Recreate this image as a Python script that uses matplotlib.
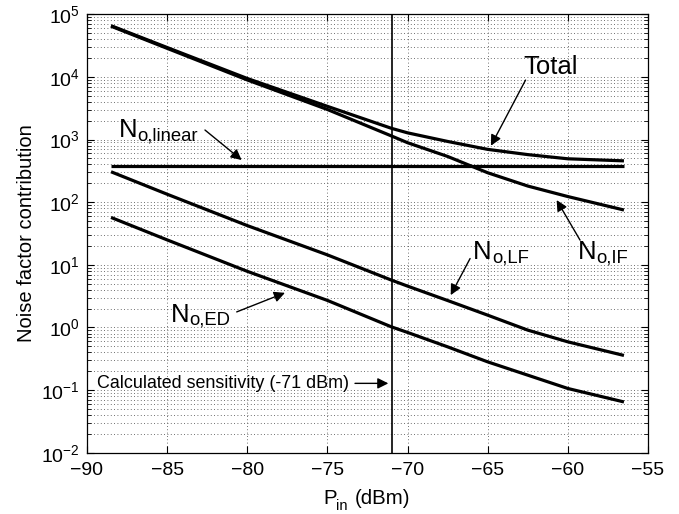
import matplotlib
matplotlib.use("Agg")
import matplotlib.pyplot as plt
from matplotlib.ticker import LogLocator, NullFormatter, FixedLocator

plt.rcParams["font.family"] = ["Liberation Sans", "DejaVu Sans"]
plt.rcParams["mathtext.fontset"] = "custom"
plt.rcParams["mathtext.rm"] = "Liberation Sans"
plt.rcParams["mathtext.it"] = "Liberation Sans:italic"
plt.rcParams["mathtext.bf"] = "Liberation Sans:bold"

# --- data ---
p_in = [-88.5, -85, -80, -75, -71, -70, -67.5, -65, -62.5, -60, -56.5]
n_total = [65800, 29500, 9440, 3390, 1510, 1280, 933, 697, 575, 493, 457]
n_if = [64600, 28600, 8950, 3020, 1140, 890, 537, 295, 181, 123, 75]
n_linear = [380] * len(p_in)
n_lf = [306, 134, 42.3, 14.4, 5.69, 4.57, 2.69, 1.57, 0.906, 0.589, 0.357]
n_ed = [57.1, 25.0, 7.87, 2.70, 1.02, 0.832, 0.490, 0.282, 0.173, 0.106, 0.0646]
sensitivity = -71
x_ticks = [-90, -85, -80, -75, -70, -65, -60, -55]

W, H = 679, 514
fig = plt.figure(figsize=(W / 100, H / 100), dpi=100)
ax = fig.add_axes([87 / W, 1 - 452.7 / H, 561 / W, 438.4 / H])

for series in (n_total, n_if, n_linear, n_lf, n_ed):
    ax.plot(p_in, series, color="black", lw=2.3, solid_capstyle="butt")
ax.axvline(sensitivity, color="black", lw=1.2)

ax.set_yscale("log")
ax.set_xlim(-90, -55)
ax.set_ylim(1e-2, 1e5)
ax.xaxis.set_major_locator(FixedLocator(x_ticks))
ax.yaxis.set_major_locator(LogLocator(base=10, numticks=10))
ax.yaxis.set_minor_locator(LogLocator(base=10, subs=range(2, 10), numticks=20))
ax.yaxis.set_minor_formatter(NullFormatter())

grid_style = dict(color="0.25", lw=0.6, linestyle=(0, (1, 3)))
ax.grid(True, which="major", axis="x", **grid_style)
ax.grid(True, which="both", axis="y", **grid_style)

ax.tick_params(which="both", direction="in", top=True, right=True, labelsize=14)
ax.tick_params(which="major", length=5)
ax.tick_params(which="minor", length=3)
ax.tick_params(axis="x", pad=7)
ax.tick_params(axis="y", pad=5)
for s in ax.spines.values():
    s.set_linewidth(0.9)

ax.set_ylabel("Noise factor contribution", fontsize=14.5, labelpad=4)


def sub_text(x, y, main, sub, size, main_w, drop, scale=0.72):
    # main letter + smaller subscript, placed like the MATLAB tex labels
    ax.text(x, y, main, fontsize=size, ha="left", va="baseline")
    ax.annotate(sub, xy=(x, y), xytext=(main_w * size, -drop),
                textcoords="offset points", fontsize=scale * size,
                ha="left", va="baseline")


# x label: P_in (dBm), built from three pieces in pixel positions
fig.text(323 / W, 1 - 504 / H, "P", fontsize=14.7, ha="left", va="baseline")
fig.text(336 / W, 1 - 510 / H, "in", fontsize=10.5, ha="left", va="baseline")
fig.text(355 / W, 1 - 504 / H, "(dBm)", fontsize=14.7, ha="left", va="baseline")

# --- annotations ---
arrow = dict(arrowstyle="-|>", color="black", lw=1.0, mutation_scale=16,
             shrinkA=0, shrinkB=0)
big = 18.5

ax.text(-61.05, 14400, "Total", fontsize=big, ha="center", va="center")
ax.annotate("", xy=(-64.8, 796), xytext=(-62.64, 8900), arrowprops=arrow)

sub_text(-88.0, 1097, "N", "o,linear", big, 0.722, 2.2)
ax.annotate("", xy=(-80.35, 471), xytext=(-82.64, 1420), arrowprops=arrow)

sub_text(-59.37, 12.3, "N", "o,IF", big, 0.722, 2.2)
ax.annotate("", xy=(-60.7, 108), xytext=(-59.24, 24.8), arrowprops=arrow)

sub_text(-65.9, 12.2, "N", "o,LF", big, 0.722, 2.2)
ax.annotate("", xy=(-67.31, 3.28), xytext=(-66.1, 12.6), arrowprops=arrow)

sub_text(-84.76, 1.23, "N", "o,ED", big, 0.722, 2.2)
ax.annotate("", xy=(-77.65, 3.57), xytext=(-80.66, 1.77), arrowprops=arrow)

ax.text(-89.36, 0.128, "Calculated sensitivity (-71 dBm)", fontsize=12.9,
        ha="left", va="center")
ax.annotate("", xy=(-71.2, 0.128), xytext=(-73.28, 0.128), arrowprops=arrow)

fig.savefig("out.png", dpi=100)
plt.close("all")
